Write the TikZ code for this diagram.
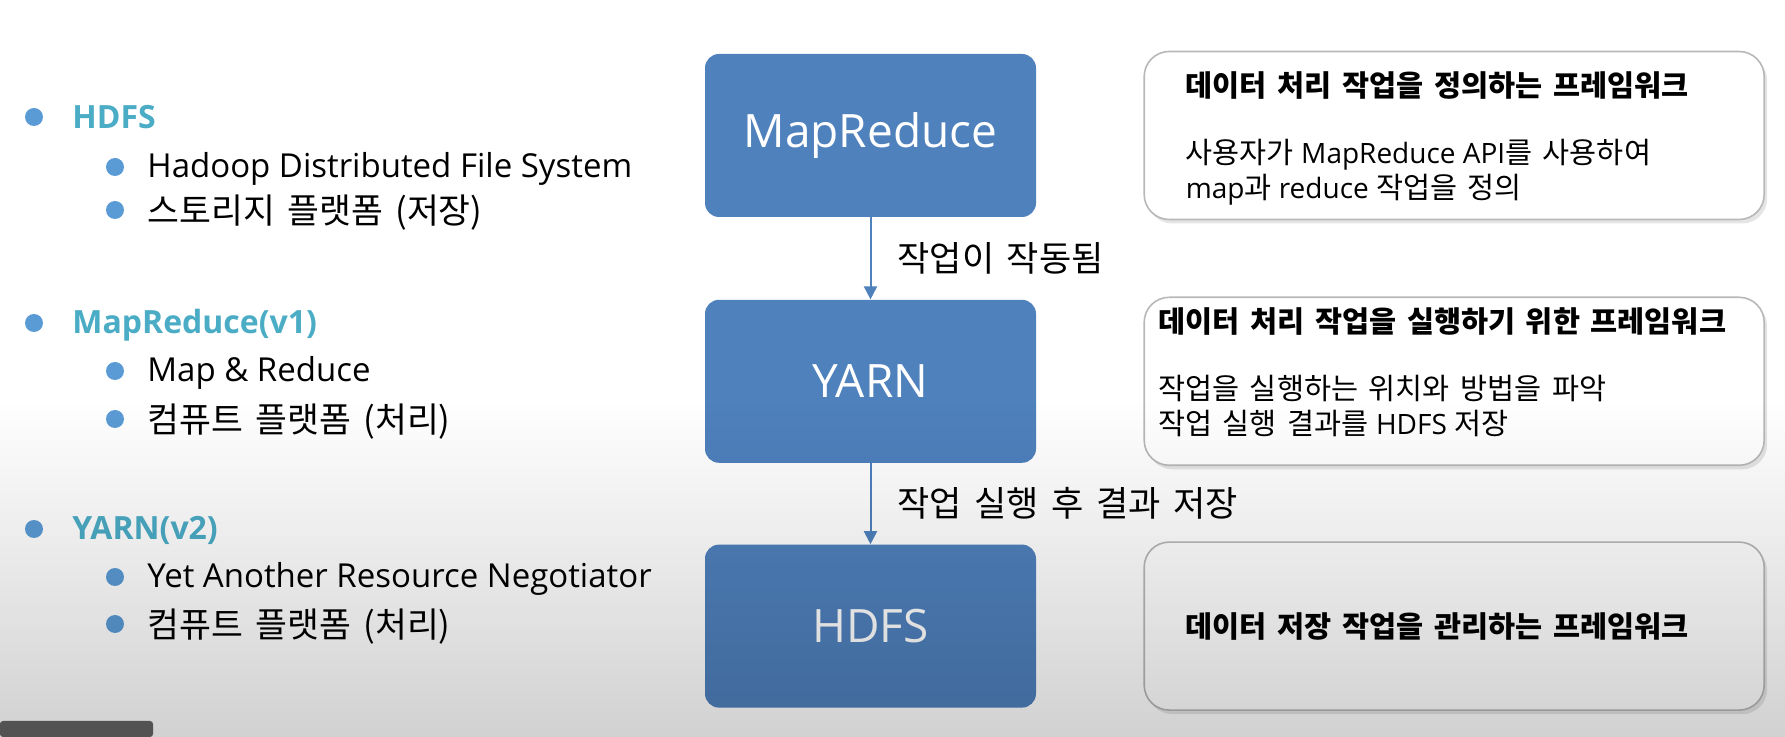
\documentclass[tikz,border=0pt]{standalone}
\usepackage{fontspec}
\setmainfont{Open Sans}
\newfontfamily\kr{Noto Sans CJK KR}[Scale=1.05, WordSpace=1.6]
\usetikzlibrary{positioning,shadows,fadings,arrows.meta}
\definecolor{blockblue}{HTML}{4F81BD}
\definecolor{dotblue}{HTML}{5B9BD5}
\definecolor{headteal}{HTML}{4BACC6}
\definecolor{framegray}{HTML}{B8B8B8}
\definecolor{bargray}{HTML}{525252}

\tikzset{
	block/.style={fill=blockblue, rounded corners=7pt, minimum width=165.5pt, minimum height=81.5pt, inner sep=0pt, text=white, font=\fontsize{23}{27}\selectfont},
	infobox/.style={draw=framegray, line width=0.8pt, fill=white, rounded corners=12.5pt, minimum width=310pt, minimum height=84pt, inner sep=0pt, drop shadow={shadow xshift=1.5pt, shadow yshift=-2pt, opacity=0.2}},
	infotext/.style={inner sep=0pt, align=left, font=\fontsize{14}{17.5}\selectfont},
	flow/.style={draw=blockblue, line width=1pt, -{Triangle[length=6.5pt,width=6.5pt]}},
	flowlabel/.style={inner sep=0pt, font=\kr\fontsize{16.7}{20}\selectfont},
	listdot/.style={circle, fill=dotblue, inner sep=0pt, minimum size=9pt},
	listhead/.style={anchor=base west, inner sep=0pt, text=headteal, font=\bfseries\fontsize{16}{19}\selectfont},
	listitem/.style={anchor=base west, inner sep=0pt, font=\fontsize{16.5}{20}\selectfont},
}

\begin{document}
\begin{tikzpicture}[x=0.5pt,y=-0.5pt]
	\useasboundingbox (0,0) rectangle (1785,737);
	\fill[white] (0,0) rectangle (1785,737);
	% left list
	\node[listdot] (d1) at (34,117) {};
	\node[listhead] (h1) at (72,129) {HDFS};
	\node[listdot] (d11) at (115,167) {};
	\node[listitem] (i11) at (147,178) {Hadoop Distributed File System};
	\node[listdot] (d12) at (115,210) {};
	\node[listitem] (i12) at (147,224) {\kr 스토리지 플랫폼 (저장)};

	\node[listdot] (d2) at (34,323) {};
	\node[listhead] (h2) at (72,334) {MapReduce(v1)};
	\node[listdot] (d21) at (115,371) {};
	\node[listitem] (i21) at (147,382) {Map \& Reduce};
	\node[listdot] (d22) at (115,419) {};
	\node[listitem] (i22) at (147,433) {\kr 컴퓨트 플랫폼 (처리)};

	\node[listdot] (d3) at (34,529) {};
	\node[listhead] (h3) at (72,540) {YARN(v2)};
	\node[listdot] (d31) at (115,577) {};
	\node[listitem] (i31) at (147,588) {Yet Another Resource Negotiator};
	\node[listdot] (d32) at (115,624) {};
	\node[listitem] (i32) at (147,638) {\kr 컴퓨트 플랫폼 (처리)};
	% blocks
	\node[block] (mr) at (870.5,135.5) {MapReduce};
	\node[block, below=41pt of mr] (yarn) {YARN};
	\node[block, below=40.5pt of yarn] (hdfs) {HDFS};
	% arrows
	\draw[flow] (mr) -- node[flowlabel, right=13pt] (l1) {작업이 작동됨} (yarn);
	\draw[flow] (yarn) -- node[flowlabel, right=13pt] (l2) {작업 실행 후 결과 저장} (hdfs);
	% description boxes
	\node[infobox, right=53.5pt of mr] (dmr) {};
	\node[infobox, right=53.5pt of yarn] (dyarn) {};
	\node[infobox, right=53.5pt of hdfs] (dhdfs) {};
	\node[infotext] (tmr) at ([xshift=-8.5pt,yshift=-1.7pt]dmr.center) {{\kr\bfseries 데이터 처리 작업을 정의하는 프레임워크}\\[16pt]
		{\kr 사용자가} MapReduce API{\kr 를 사용하여}\\
		map{\kr 과} reduce {\kr 작업을 정의}};
	\node[infotext] (tyarn) at ([xshift=-6pt,yshift=4.5pt]dyarn.center) {{\kr\bfseries 데이터 처리 작업을 실행하기 위한 프레임워크}\\[16pt]
		{\kr 작업을 실행하는 위치와 방법을 파악}\\
		{\kr 작업 실행 결과를} HDFS {\kr 저장}};
	\node[infotext] (thdfs) at ([xshift=-8.5pt]dhdfs.center) {{\kr\bfseries 데이터 저장 작업을 관리하는 프레임워크}};
	% shading of the lower part
	\fill[black, opacity=0.18, path fading=north] (0,400) rectangle (1785,737);
	\fill[bargray, rounded corners=1.5pt] (0,721) rectangle (153,737);
\end{tikzpicture}
\end{document}
